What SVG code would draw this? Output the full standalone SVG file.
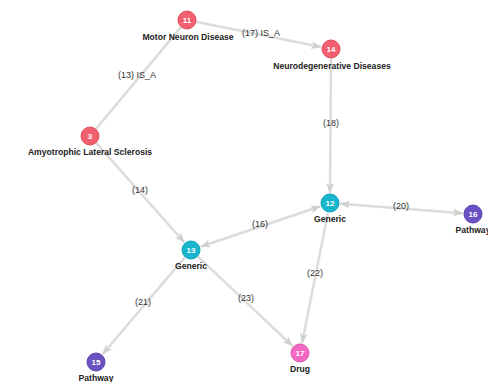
<svg xmlns="http://www.w3.org/2000/svg" width="488" height="382" viewBox="0 0 488 382">
  <style>
    .edge { stroke: #dcdcdc; stroke-width: 2.5; fill: none; }
    .elabel { font-family: "Liberation Sans", Arial, sans-serif; font-size: 9px; fill: #333; text-anchor: middle; }
    .nlabel { font-family: "Liberation Sans", Arial, sans-serif; font-size: 8.6px; font-weight: bold; fill: #222; text-anchor: middle; }
    .nid { font-family: "Liberation Sans", Arial, sans-serif; font-size: 8px; font-weight: bold; fill: #fff; text-anchor: middle; }
    .disease { fill: #f2606f; stroke: #e04d5c; stroke-width: 1; }
    .generic { fill: #17b6cd; stroke: #0fa3b8; stroke-width: 1; }
    .pathway { fill: #6a52c2; stroke: #5a43b0; stroke-width: 1; }
    .drug { fill: #f46ac2; stroke: #e055ad; stroke-width: 1; }
  </style>
  <defs>
    <marker id="arrow" viewBox="0 0 10 8" refX="10" refY="4" markerWidth="10" markerHeight="8" markerUnits="userSpaceOnUse" orient="auto-start-reverse">
      <path d="M0,0 L10,4 L0,8 L2.5,4 Z" fill="#d0d0d0"/>
    </marker>
  </defs>
  <rect width="488" height="382" fill="#fff"/>

  <g id="connectors">
    <line class="edge" x1="95.8" y1="129.1" x2="181.2" y2="26.9"/>
    <line class="edge" x1="195.8" y1="21.8" x2="321.2" y2="47.0" marker-end="url(#arrow)"/>
    <line class="edge" x1="331" y1="58" x2="330" y2="193" marker-end="url(#arrow)"/>
    <line class="edge" x1="96" y1="142.7" x2="184.4" y2="242.5" marker-end="url(#arrow)"/>
    <line class="edge" x1="200.5" y1="246.8" x2="320.5" y2="206.2" marker-start="url(#arrow)" marker-end="url(#arrow)"/>
    <line class="edge" x1="340" y1="203.8" x2="463" y2="213.2" marker-start="url(#arrow)" marker-end="url(#arrow)"/>
    <line class="edge" x1="328" y1="212.8" x2="302" y2="343.2" marker-end="url(#arrow)"/>
    <line class="edge" x1="185.2" y1="256.9" x2="102.5" y2="354.4" marker-end="url(#arrow)"/>
    <line class="edge" x1="197.5" y1="256.2" x2="292.7" y2="346.1" marker-end="url(#arrow)"/>

    <text class="elabel" x="261" y="36">(17) IS_A</text>
    <text class="elabel" x="137" y="78">(13) IS_A</text>
    <text class="elabel" x="331" y="126">(18)</text>
    <text class="elabel" x="140" y="193">(14)</text>
    <text class="elabel" x="260" y="227">(16)</text>
    <text class="elabel" x="401" y="209">(20)</text>
    <text class="elabel" x="315" y="276">(22)</text>
    <text class="elabel" x="143" y="305">(21)</text>
    <text class="elabel" x="246" y="301">(23)</text>
  </g>

  <g id="node-11">
    <circle class="disease" cx="187" cy="20" r="9"/>
    <text class="nid" x="187" y="23">11</text>
    <text class="nlabel" x="188" y="40">Motor Neuron Disease</text>
  </g>
  <g id="node-14">
    <circle class="disease" cx="331" cy="49" r="9"/>
    <text class="nid" x="331" y="52">14</text>
    <text class="nlabel" x="332" y="69">Neurodegenerative Diseases</text>
  </g>
  <g id="node-3">
    <circle class="disease" cx="90" cy="136" r="9"/>
    <text class="nid" x="90" y="139">3</text>
    <text class="nlabel" x="90" y="155">Amyotrophic Lateral Sclerosis</text>
  </g>
  <g id="node-12">
    <circle class="generic" cx="330" cy="203" r="9"/>
    <text class="nid" x="330" y="206">12</text>
    <text class="nlabel" x="330" y="222">Generic</text>
  </g>
  <g id="node-16">
    <circle class="pathway" cx="473" cy="214" r="9"/>
    <text class="nid" x="473" y="217">16</text>
    <text class="nlabel" x="473" y="233">Pathway</text>
  </g>
  <g id="node-13">
    <circle class="generic" cx="191" cy="250" r="9"/>
    <text class="nid" x="191" y="253">13</text>
    <text class="nlabel" x="191" y="269">Generic</text>
  </g>
  <g id="node-15">
    <circle class="pathway" cx="96" cy="362" r="9"/>
    <text class="nid" x="96" y="365">15</text>
    <text class="nlabel" x="96" y="381">Pathway</text>
  </g>
  <g id="node-17">
    <circle class="drug" cx="300" cy="353" r="9"/>
    <text class="nid" x="300" y="356">17</text>
    <text class="nlabel" x="300" y="372">Drug</text>
  </g>
</svg>
